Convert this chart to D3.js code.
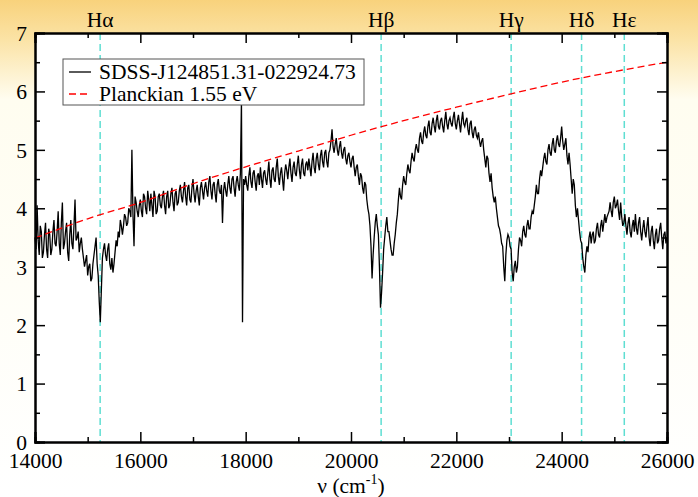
<!DOCTYPE html>
<html>
<head>
<meta charset="utf-8">
<script src="https://cdn.jsdelivr.net/npm/d3@7"></script>
<style>
  body { margin: 0; }
  svg { display: block; }
</style>
</head>
<body>
<svg id="viz"></svg>
<script>
const svg = d3.select("#viz");
const W = 698, H = 497;
svg.attr("width", W).attr("height", H);

const serif = "'Liberation Serif', 'Times New Roman', Times, serif";
const fs = 21.5;

// spectrum read at 14000, 14040, ... 26000 cm-1
const nuStart = 14000, nuStep = 40;
const flux = [
  3.5, 4.05, 3.2, 3.6, 3.25, 3.75, 3.15, 3.55, 3.3, 3.8,
  3.35, 3.95, 3.2, 4.1, 3.4, 3.75, 3.1, 3.8, 3.3, 4.15,
  3.5, 3.25, 3.5, 3.15, 3.1, 2.85, 3.05, 2.8, 3.2, 3.5,
  2.85, 2.05, 3.15, 3.4, 3.1, 3.4, 2.95, 2.9, 3.25, 3.35,
  3.5, 3.7, 3.7, 3.85, 3.75, 3.95, 5.0, 3.35, 4.1, 3.85,
  4.15, 3.85, 4.2, 3.9, 4.15, 4.25, 3.85, 4.2, 3.95, 4.25,
  4.0, 4.3, 3.9, 4.3, 4.05, 4.35, 3.95, 4.3, 4.1, 4.4,
  4.1, 4.45, 4.05, 4.4, 4.1, 4.5, 4.1, 4.4, 4.05, 4.45,
  4.15, 4.45, 4.2, 4.55, 4.15, 4.45, 4.1, 4.5, 4.25, 3.75,
  4.45, 4.2, 4.55, 4.25, 4.55, 4.2, 4.55, 4.3, 5.85, 4.5,
  4.55, 4.3, 4.7, 4.35, 4.65, 4.3, 4.6, 4.7, 4.35, 4.65,
  4.4, 4.8, 4.35, 4.7, 4.45, 4.85, 4.4, 4.7, 4.3, 4.75,
  4.5, 4.85, 4.45, 4.8, 4.55, 4.9, 4.5, 4.85, 4.55, 4.8,
  4.85, 4.55, 4.95, 4.6, 4.95, 4.65, 5.0, 4.7, 5.0, 4.7,
  5.0, 5.35, 4.95, 5.2, 4.9, 5.15, 4.85, 5.05, 4.75, 4.95,
  4.7, 4.9, 4.55, 4.75, 4.4, 4.55, 4.25, 4.4, 4.0, 3.7,
  2.8, 3.5, 3.9, 3.55, 2.3, 2.9, 3.5, 3.85, 3.6, 3.3,
  3.2, 3.55, 3.9, 4.35, 4.15, 4.55, 4.4, 4.75, 4.6, 4.95,
  4.8, 5.1, 4.95, 5.3, 5.1, 5.4, 5.2, 5.5, 5.25, 5.55,
  5.3, 5.6, 5.35, 5.55, 5.3, 5.65, 5.35, 5.55, 5.4, 5.65,
  5.35, 5.6, 5.3, 5.65, 5.4, 5.55, 5.25, 5.5, 5.2, 5.4,
  5.2, 5.15, 5.15, 5.0, 4.7, 4.85, 4.45, 4.35, 4.1, 4.0,
  3.7, 3.55, 3.35, 2.75, 3.45, 3.5, 3.3, 2.75, 3.1, 3.0,
  3.5, 3.35, 3.7, 3.5, 3.8, 3.65, 3.95, 4.05, 4.4, 4.25,
  4.65, 4.7, 4.95, 4.75, 5.1, 4.9, 5.2, 4.95, 5.25, 5.05,
  5.4, 5.0, 5.2, 4.75, 4.75, 4.25, 4.4, 3.85, 3.8, 3.45,
  3.15, 2.9, 3.35, 3.5, 3.4, 3.6, 3.45, 3.75, 3.5, 3.8,
  3.75, 3.75, 3.9, 4.1, 3.85, 4.2, 4.05, 3.95, 4.1, 3.7,
  3.9, 3.55, 3.85, 3.5, 3.8, 3.9, 3.55, 3.85, 3.45, 3.8,
  3.5, 3.85, 3.35, 3.7, 3.3, 3.65, 3.45, 3.75, 3.3, 3.6,
  3.5
];
// spectrum read at 14020, 14060, ... 25980 cm-1
const fluxOdd = [
  3.3, 3.45, 3.7, 3.15, 3.55, 3.3, 3.65, 3.2, 3.6, 3.4,
  3.6, 3.4, 3.75, 3.3, 3.6, 3.25, 3.55, 3.4, 3.7, 3.45,
  3.6, 3.4, 3.3, 3.0, 3.2, 3.0, 2.75, 3.05, 3.35, 3.05,
  2.4, 2.6, 3.3, 3.2, 3.3, 3.05, 3.15, 3.05, 3.45, 3.6,
  3.8, 3.55, 3.9, 3.7, 4.0, 3.85, 3.9, 4.2, 3.95, 4.05,
  3.95, 4.25, 4.0, 4.3, 3.95, 4.05, 4.3, 3.9, 4.2, 4.05,
  4.2, 4.05, 4.2, 4.0, 4.25, 4.1, 4.25, 4.05, 4.3, 4.2,
  4.3, 4.2, 4.35, 4.15, 4.35, 4.25, 4.3, 4.2, 4.35, 4.3,
  4.35, 4.3, 4.45, 4.3, 4.4, 4.25, 4.4, 4.3, 4.4, 4.3,
  4.3, 4.4, 4.35, 4.5, 4.35, 4.45, 4.4, 4.6, 2.05, 4.4,
  4.4, 4.55, 4.45, 4.6, 4.45, 4.55, 4.4, 4.5, 4.6, 4.5,
  4.6, 4.5, 4.65, 4.5, 4.7, 4.55, 4.6, 4.5, 4.6, 4.65,
  4.7, 4.6, 4.7, 4.6, 4.75, 4.65, 4.75, 4.6, 4.75, 4.65,
  4.7, 4.8, 4.7, 4.85, 4.75, 4.9, 4.8, 4.95, 4.8, 4.95,
  5.15, 5.05, 5.1, 5.0, 5.05, 4.95, 5.0, 4.85, 4.9, 4.8,
  4.85, 4.7, 4.7, 4.55, 4.6, 4.35, 4.45, 4.15, 3.9, 3.35,
  3.2, 3.75, 3.7, 3.0, 2.55, 3.3, 3.7, 3.6, 3.45, 3.2,
  3.4, 3.75, 4.15, 4.2, 4.4, 4.45, 4.6, 4.65, 4.8, 4.85,
  5.0, 5.0, 5.2, 5.15, 5.3, 5.25, 5.4, 5.3, 5.45, 5.4,
  5.5, 5.4, 5.5, 5.4, 5.5, 5.45, 5.5, 5.45, 5.55, 5.45,
  5.5, 5.45, 5.5, 5.45, 5.5, 5.35, 5.45, 5.3, 5.35, 5.25,
  5.3, 5.05, 5.2, 4.85, 4.9, 4.6, 4.6, 4.2, 4.2, 3.85,
  3.65, 3.4, 3.0, 3.2, 3.55, 3.35, 2.9, 3.0, 2.9, 3.3,
  3.45, 3.6, 3.55, 3.7, 3.65, 3.85, 3.9, 4.2, 4.25, 4.5,
  4.55, 4.85, 4.8, 5.0, 4.95, 5.1, 5.0, 5.15, 5.1, 5.2,
  5.15, 5.1, 4.9, 4.95, 4.5, 4.5, 4.05, 4.0, 3.6, 3.4,
  3.0, 3.2, 3.25, 3.6, 3.55, 3.4, 3.65, 3.55, 3.7, 3.6,
  3.9, 3.85, 3.95, 3.95, 4.1, 4.0, 4.15, 3.8, 3.85, 3.75,
  3.7, 3.75, 3.6, 3.7, 3.6, 3.65, 3.75, 3.6, 3.65, 3.6,
  3.7, 3.5, 3.6, 3.45, 3.55, 3.4, 3.65, 3.5, 3.55, 3.4
];

// planckian curve
const planckNu = [14000, 15000, 16000, 17000, 18000, 19000, 20000, 21000, 22000, 23000, 24000, 25000, 26000];
const planckVal = [3.49, 3.82, 4.1, 4.42, 4.71, 4.98, 5.25, 5.5, 5.73, 5.95, 6.16, 6.34, 6.5];

// Balmer lines
const lineNames = ["Hα", "Hβ", "Hγ", "Hδ", "Hε"];
const lineNu = [15237, 20572, 23041, 24378, 25189];

const seriesNames = ["SDSS-J124851.31-022924.73", "Planckian 1.55 eV"];

// interleave the two readings into one series
const spectrum = [];
flux.forEach((v, i) => {
  spectrum.push({nu: nuStart + i * nuStep, v: v});
  if (i < fluxOdd.length) spectrum.push({nu: nuStart + nuStep / 2 + i * nuStep, v: fluxOdd[i]});
});

const margin = {left: 35, right: 31, top: 33, bottom: 55};
const x = d3.scaleLinear().domain([14000, 26000]).range([margin.left, W - margin.right]);
const y = d3.scaleLinear().domain([0, 7]).range([H - margin.bottom, margin.top]);

// background
const defs = svg.append("defs");
const grad = defs.append("linearGradient").attr("id", "bg")
  .attr("x1", 0).attr("y1", 0).attr("x2", 0).attr("y2", 1);
grad.append("stop").attr("offset", 0).attr("stop-color", "#f8d27c");
grad.append("stop").attr("offset", 0.08).attr("stop-color", "#fbe3a6");
grad.append("stop").attr("offset", 0.2).attr("stop-color", "#fffdf0");
grad.append("stop").attr("offset", 1).attr("stop-color", "#ffffff");
svg.append("rect").attr("width", W).attr("height", H).attr("fill", "url(#bg)");

svg.append("rect")
  .attr("x", x(14000)).attr("y", y(7))
  .attr("width", x(26000) - x(14000)).attr("height", y(0) - y(7))
  .attr("fill", "#fff");

// line markers
svg.selectAll(".hline")
  .data(lineNu)
  .enter().append("line")
  .attr("x1", d => x(d)).attr("x2", d => x(d))
  .attr("y1", y(7)).attr("y2", y(0))
  .attr("stroke", "#5fded2")
  .attr("stroke-width", 1.5)
  .attr("stroke-dasharray", "7,4");

svg.selectAll(".hlab")
  .data(lineNames)
  .enter().append("text")
  .attr("x", (d, i) => x(lineNu[i]))
  .attr("y", 27)
  .attr("text-anchor", "middle")
  .style("font-family", serif)
  .style("font-size", fs + "px")
  .text(d => d);

// spectrum
const line = d3.line()
  .x(d => x(d.nu))
  .y(d => y(d.v));
svg.append("path")
  .datum(spectrum)
  .attr("d", line)
  .attr("fill", "none")
  .attr("stroke", "#000")
  .attr("stroke-width", 1.3);

// planckian
const pline = d3.line().curve(d3.curveMonotoneX)
  .x((d, i) => x(planckNu[i]))
  .y(d => y(d));
svg.append("path")
  .datum(planckVal)
  .attr("d", pline)
  .attr("fill", "none")
  .attr("stroke", "#ff0000")
  .attr("stroke-width", 1.3)
  .attr("stroke-dasharray", "7,4");

// axes
const fmt = d3.format("d");
const xb = svg.append("g").attr("transform", `translate(0,${y(0)})`)
  .call(d3.axisBottom(x).tickValues(d3.range(14000, 26001, 2000)).tickFormat(fmt).tickSize(-10).tickPadding(11));
const xbm = svg.append("g").attr("transform", `translate(0,${y(0)})`)
  .call(d3.axisBottom(x).tickValues(d3.range(15000, 26000, 2000)).tickFormat("").tickSize(-5));
const xt = svg.append("g").attr("transform", `translate(0,${y(7)})`)
  .call(d3.axisTop(x).tickValues(d3.range(14000, 26001, 2000)).tickFormat("").tickSize(-10));
const xtm = svg.append("g").attr("transform", `translate(0,${y(7)})`)
  .call(d3.axisTop(x).tickValues(d3.range(15000, 26000, 2000)).tickFormat("").tickSize(-5));
const yl = svg.append("g").attr("transform", `translate(${x(14000)},0)`)
  .call(d3.axisLeft(y).tickValues(d3.range(0, 8)).tickFormat(fmt).tickSize(-10).tickPadding(8));
const ylm = svg.append("g").attr("transform", `translate(${x(14000)},0)`)
  .call(d3.axisLeft(y).tickValues(d3.range(0.5, 7, 1)).tickFormat("").tickSize(-5));
const yr = svg.append("g").attr("transform", `translate(${x(26000)},0)`)
  .call(d3.axisRight(y).tickValues(d3.range(0, 8)).tickFormat("").tickSize(-10));
const yrm = svg.append("g").attr("transform", `translate(${x(26000)},0)`)
  .call(d3.axisRight(y).tickValues(d3.range(0.5, 7, 1)).tickFormat("").tickSize(-5));

[xb, xbm, xt, xtm, yl, ylm, yr, yrm].forEach(g => {
  g.select(".domain").attr("stroke", "#000").attr("stroke-width", 2);
  g.selectAll(".tick line").attr("stroke", "#000").attr("stroke-width", 1.5);
  g.selectAll("text")
    .style("font-family", serif)
    .style("font-size", fs + "px")
    .attr("fill", "#000");
});
yl.selectAll("text").attr("dy", "0.34em");

// x title
const xtitle = svg.append("text")
  .attr("x", (x(14000) + x(26000)) / 2)
  .attr("y", 493)
  .attr("text-anchor", "middle")
  .style("font-family", serif)
  .style("font-size", fs + "px");
xtitle.append("tspan").text("ν (cm");
xtitle.append("tspan").style("font-size", "14px").attr("dy", -9).text("-1");
xtitle.append("tspan").attr("dy", 9).text(")");

// legend
const lg = svg.append("g");
lg.append("rect")
  .attr("x", 63).attr("y", 59).attr("width", 301).attr("height", 46)
  .attr("fill", "#fff").attr("stroke", "#555").attr("stroke-width", 1);
const legendStyles = [
  {stroke: "#000", dash: null},
  {stroke: "#ff0000", dash: "7,4"}
];
lg.selectAll(".li")
  .data(seriesNames)
  .enter().append("line")
  .attr("x1", 69).attr("x2", 91)
  .attr("y1", (d, i) => 72 + i * 22).attr("y2", (d, i) => 72 + i * 22)
  .attr("stroke", (d, i) => legendStyles[i].stroke)
  .attr("stroke-width", 1.3)
  .attr("stroke-dasharray", (d, i) => legendStyles[i].dash);
lg.selectAll(".lt")
  .data(seriesNames)
  .enter().append("text")
  .attr("x", 99)
  .attr("y", (d, i) => 79 + i * 22)
  .style("font-family", serif)
  .style("font-size", fs + "px")
  .text(d => d);
</script>
</body>
</html>
